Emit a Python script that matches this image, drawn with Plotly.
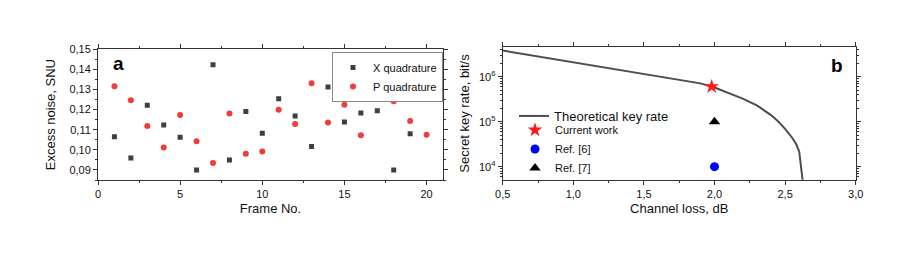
import plotly.graph_objects as go

# ---------------- data ----------------
frames = list(range(1, 21))
x_quad = [0.1065, 0.0960, 0.1222, 0.1123, 0.1063, 0.0900, 0.1423, 0.0950, 0.1191, 0.1083,
          0.1254, 0.1168, 0.1017, 0.1312, 0.1139, 0.1183, 0.1194, 0.0900, 0.1080, 0.1312]
p_quad = [0.1316, 0.1246, 0.1118, 0.1012, 0.1173, 0.1043, 0.0935, 0.1181, 0.0980, 0.0992,
          0.1199, 0.1129, 0.1331, 0.1136, 0.1224, 0.1073, 0.1266, 0.1242, 0.1143, 0.1075]

loss_db = [0.5, 0.75, 1.0, 1.25, 1.5, 1.75, 1.9, 2.0, 2.1, 2.2, 2.3, 2.4, 2.45, 2.5,
           2.55, 2.58, 2.60, 2.61, 2.625, 2.63]
key_rate = [3.8e6, 2.8e6, 2.1e6, 1.55e6, 1.15e6, 8.5e5, 7.1e5, 5.75e5, 4.4e5, 3.25e5,
            2.3e5, 1.4e5, 1.02e5, 6.9e4, 4.4e4, 3.1e4, 2.15e4, 1.25e4, 5.2e3, 3.5e3]

current_loss, current_rate = [1.98], [6.0e5]
ref6_loss, ref6_rate = [2.0], [1.0e4]
ref7_loss, ref7_rate = [2.0], [1.0e5]

log_tickvals = [1e4, 1e5, 1e6]
log_ticktext = ["10<sup>4</sup>", "10<sup>5</sup>", "10<sup>6</sup>"]
log_minor = [m * 10 ** k for k in (3, 4, 5, 6) for m in range(2, 10)]

FONT = "Liberation Sans, Arial, sans-serif"
# the page body has an 8px margin; the figure is sized to fill the rest of the window
OFF = 8
W, H = 913 - OFF, 253 - OFF


def px(x):
    return (x - OFF) / W


def py(y):
    return 1 - (y - OFF) / H


fig = go.Figure()

# ---------------- panel a ----------------
fig.add_trace(go.Scatter(x=frames, y=x_quad, mode="markers", name="X quadrature",
                         marker=dict(symbol="square", size=5, color="#3f3f3f"),
                         xaxis="x", yaxis="y", legend="legend"))
fig.add_trace(go.Scatter(x=frames, y=p_quad, mode="markers", name="P quadrature",
                         marker=dict(symbol="circle", size=6, color="#f23b3b"),
                         xaxis="x", yaxis="y", legend="legend"))

# ---------------- panel b ----------------
fig.add_trace(go.Scatter(x=loss_db, y=key_rate, mode="lines", name="Theoretical key rate",
                         line=dict(color="#4d4d4d", width=2),
                         xaxis="x2", yaxis="y2", legend="legend2"))
fig.add_trace(go.Scatter(x=current_loss, y=current_rate, mode="markers", name="Current work",
                         marker=dict(symbol="star", size=11, color="#ff1a1a"),
                         xaxis="x2", yaxis="y2", legend="legend3"))
fig.add_trace(go.Scatter(x=ref6_loss, y=ref6_rate, mode="markers", name="Ref. [6]",
                         marker=dict(symbol="circle", size=9, color="#0000ff"),
                         xaxis="x2", yaxis="y2", legend="legend3"))
fig.add_trace(go.Scatter(x=ref7_loss, y=ref7_rate, mode="markers", name="Ref. [7]",
                         marker=dict(symbol="triangle-up", size=10, color="#000000"),
                         xaxis="x2", yaxis="y2", legend="legend3"))

axis_common = dict(showline=True, linecolor="#333333", linewidth=1, mirror="allticks",
                   ticks="outside", ticklen=4, tickcolor="#333333", showgrid=False,
                   zeroline=False, automargin=False,
                   tickfont=dict(family=FONT, size=11, color="#111111"))

fig.update_layout(
    width=W, height=H,
    margin=dict(l=0, r=0, t=0, b=0),
    paper_bgcolor="white", plot_bgcolor="white",
    separators=", ",
    font=dict(family=FONT, color="#111111"),
    xaxis=dict(domain=[px(98), px(443)], range=[0, 21], tick0=0, dtick=5,
               minor=dict(ticks="outside", ticklen=2, dtick=2.5, tickcolor="#333333"),
               title=dict(text="Frame No.", font=dict(size=13), standoff=4),
               anchor="y", **axis_common),
    yaxis=dict(domain=[py(180), py(49.3)], range=[0.085, 0.15], tick0=0.09, dtick=0.01,
               tickformat=".2f",
               minor=dict(ticks="outside", ticklen=2, dtick=0.005, tick0=0.085, tickcolor="#333333"),
               title=dict(text="Excess noise, SNU", font=dict(size=13), standoff=10),
               anchor="x", **axis_common),
    xaxis2=dict(domain=[px(502.7), px(855.7)], range=[0.5, 3.0], tick0=0.5, dtick=0.5,
                tickformat=".1f",
                minor=dict(ticks="outside", ticklen=2, dtick=0.25, tickcolor="#333333"),
                title=dict(text="Channel loss, dB", font=dict(size=13), standoff=4),
                anchor="y2", **axis_common),
    yaxis2=dict(domain=[py(179.7), py(47.3)], type="log", range=[3.71, 6.653],
                tickmode="array", tickvals=log_tickvals, ticktext=log_ticktext,
                minor=dict(ticks="outside", ticklen=2, tickmode="array", tickvals=log_minor,
                           tickcolor="#333333"),
                title=dict(text="Secret key rate, bit/s", font=dict(size=13), standoff=6),
                anchor="x2", **axis_common),
    legend=dict(x=px(332), y=py(52), xanchor="left", yanchor="top",
                bgcolor="white", bordercolor="#888888", borderwidth=1,
                font=dict(family=FONT, size=11), itemwidth=30, tracegroupgap=0),
    legend2=dict(x=px(514), y=py(116), xanchor="left", yanchor="middle",
                 bgcolor="rgba(0,0,0,0)", font=dict(family=FONT, size=13), itemwidth=30),
    legend3=dict(x=px(515), y=py(149), xanchor="left", yanchor="middle",
                 bgcolor="rgba(0,0,0,0)", font=dict(family=FONT, size=11), itemwidth=30),
    showlegend=True,
    annotations=[
        dict(text="<b>a</b>", xref="paper", yref="paper", x=px(118.5), y=py(64),
             xanchor="center", yanchor="middle", showarrow=False,
             font=dict(family=FONT, size=19, color="#000000")),
        dict(text="<b>b</b>", xref="paper", yref="paper", x=px(836.5), y=py(66),
             xanchor="center", yanchor="middle", showarrow=False,
             font=dict(family=FONT, size=19, color="#000000")),
    ],
)

fig.write_html("out.html")
